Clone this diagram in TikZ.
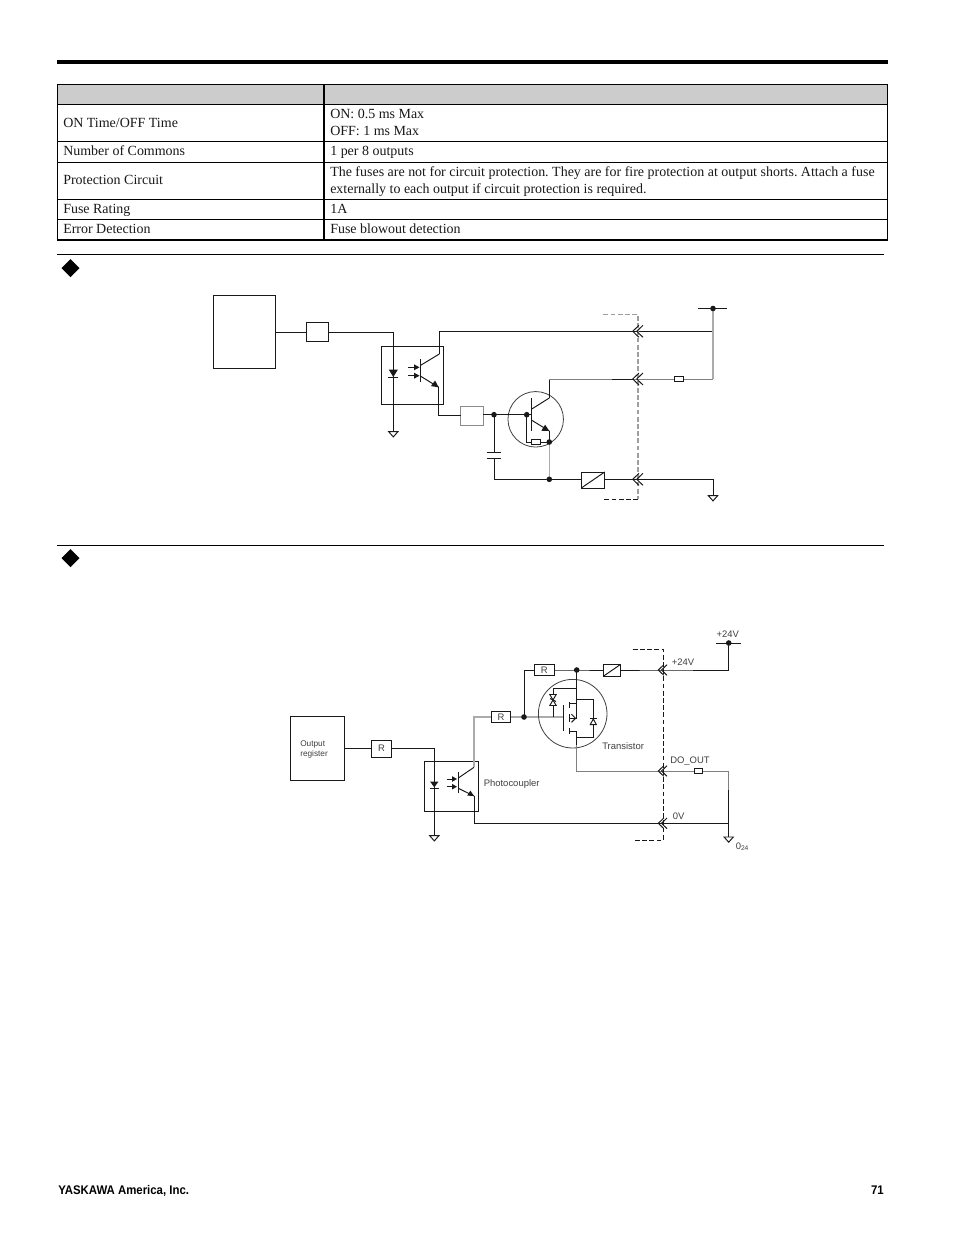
\documentclass[tikz,border=0pt]{standalone}
\usepackage{fontspec}
\setmainfont{Liberation Serif}
\setsansfont{Liberation Sans}
\frenchspacing
\tikzset{
  ln/.style={draw=black!90,line width=0.72pt},
  gw/.style={draw=black!33,line width=1.1pt},
  gy/.style={draw=black!50,line width=0.75pt},
  sz/.style 2 args={minimum width=#1*0.75pt,minimum height=#2*0.75pt,inner sep=0pt,outer sep=0pt},
  bx/.style={draw=black!90,line width=0.72pt,fill=white,rectangle},
  gbx/.style={draw=black!45,line width=1pt,fill=white,rectangle},
  rim/.style={draw=black!75,line width=0.6pt,circle,inner sep=0pt,outer sep=0pt},
  tcell/.style={anchor=base west,inner sep=0pt,font=\fontsize{10.48pt}{12pt}\selectfont,text=black!90},
  sm/.style={anchor=base west,inner sep=0pt,font=\sffamily\fontsize{7.1pt}{8pt}\selectfont,text=black!75},
  tiny/.style={anchor=base west,inner sep=0pt,font=\sffamily\fontsize{6.2pt}{7pt}\selectfont,text=black!75},
  foot/.style={inner sep=0pt,font=\sffamily\bfseries\fontsize{9.4pt}{11pt}\selectfont},
  dsh/.style={dash pattern=on 3.6pt off 1.8pt},
}
\newcommand{\gndsym}[1]{\draw[ln,fill=white] (#1) ++(-4.6,0) -- ++(9.2,0) -- ++(-4.6,5.2) -- cycle;}
\newcommand{\chev}[1]{\draw[ln] (#1) ++(6.3,-6) -- ++(-6.3,6) -- ++(6.3,6);
  \draw[ln] (#1) ++(10.3,-6) -- ++(-6.3,6) -- ++(6.3,6);}
\newcommand{\chevb}[1]{\draw[ln] (#1) ++(5.5,-5.3) -- ++(-5.5,5.3) -- ++(5.5,5.3);
  \draw[ln] (#1) ++(8.7,-5.3) -- ++(-5.5,5.3) -- ++(5.5,5.3);}
\newcommand{\jdot}[1]{\fill[black!90] (#1) circle[radius=2.8];}
\newcommand{\relaybox}[1]{\draw[ln] (#1.south west) -- (#1.north east);}
\begin{document}
\begin{tikzpicture}[x=0.75pt,y=-0.75pt]
\useasboundingbox (0,0) rectangle (954,1235);
\fill[white] (0,0) rectangle (954,1235);
% ---------- page rules
\coordinate (ruleL) at (57,62); \coordinate (ruleR) at (888,62);
\draw[line width=3.4pt,black] (ruleL) -- (ruleR);
% ---------- table
\fill[black!20] (57,84) rectangle (887,104);
\draw[line width=0.7pt,black] (57,84) rectangle (887,240);
\draw[line width=0.6pt,black] (57,104) -- (887,104) (57,141.5) -- (887,141.5) (57,162.3) -- (887,162.3)
  (57,199.3) -- (887,199.3) (57,219.3) -- (887,219.3);
\draw[line width=0.8pt,black] (324,84) -- (324,240);
\draw[line width=1pt,black] (57,240) -- (887,240);
\node[tcell] (c1) at (63,127) {ON Time/OFF Time};
\node[tcell] (d1a) at (330,118) {ON: 0.5 ms Max};
\node[tcell] (d1b) at (330,135) {OFF: 1 ms Max};
\node[tcell] (c2) at (63,155) {Number of Commons};
\node[tcell] (d2) at (330,155) {1 per 8 outputs};
\node[tcell] (c3) at (63,184) {Protection Circuit};
\node[tcell] (d3a) at (330,176) {The fuses are not for circuit protection. They are for fire protection at output shorts. Attach a fuse};
\node[tcell] (d3b) at (330,193) {externally to each output if circuit protection is required.};
\node[tcell] (c4) at (63,213) {Fuse Rating};
\node[tcell] (d4) at (330,213) {1A};
\node[tcell] (c5) at (63,233) {Error Detection};
\node[tcell] (d5) at (330,233) {Fuse blowout detection};
% ---------- section rules
\draw[line width=0.6pt,black] (57,254.5) -- (884,254.5);
\fill[black] (70.5,259) -- (79.5,268) -- (70.5,277) -- (61.5,268) -- cycle;
\draw[line width=0.6pt,black] (57,545) -- (884,545);
\fill[black] (70.5,549) -- (79.5,558) -- (70.5,567) -- (61.5,558) -- cycle;

% ========== DIAGRAM 1
\node[bx,sz={62}{73}] (reg) at (244.5,332) {};
\node[bx,sz={22.5}{19.5}] (ra) at (317.5,332) {};
\node[bx,sz={62.5}{58.5}] (pc) at (412.5,375.5) {};
\node[gbx,sz={22.5}{19.5}] (rb) at (472,416) {};
\node[rim,minimum size=55.5*0.75pt] (tq) at (535.7,419.3) {};
\coordinate (ledtop) at (393.3,332);
\coordinate (gnd1) at (393.3,431.7);
\draw[ln] (reg.east) -- (ra.west);
\draw[ln] (ra.east) -- (ledtop) -- (gnd1);
\gndsym{gnd1}
% LED
\coordinate (leda) at (393.3,369.5);
\fill[black!90] (leda) ++(-4.6,0) -- ++(9.2,0) -- ++(-4.6,7.5) -- cycle;
\draw[ln] (388.4,377.4) -- (398.2,377.4);
% phototransistor
\draw[line width=0.75pt,black!90] (420.3,359) -- (420.3,382.3);
\coordinate (pcC) at (439.3,354); \coordinate (pcE) at (438.7,387.3);
\draw[ln] (420.3,365.5) -- (pcC);
\draw[ln] (420.3,376) -- (pcE);
\fill[black!90] (pcE) -- ++(-7.8,-1.2) -- ++(4.2,-5.6) -- cycle;
\foreach \yy in {367.3,375.7}{
  \draw[ln] (408,\yy) -- (416,\yy);
  \fill[black!90] (419.5,\yy) -- (414,\yy-3) -- (414,\yy+3) -- cycle;
}
% top wire
\coordinate (con1) at (632.7,331.3);
\coordinate (con2) at (632.7,379);
\coordinate (con3) at (632.7,479.3);
\coordinate (rail1) at (713,331.3);
\coordinate (vcc1) at (713,308.5);
\coordinate (rj) at (713,379);
\draw[ln] (pcC) -- (439.3,331.3) -- (con1);
\draw[ln] (con1) -- (rail1);
\draw[gw] (vcc1) -- (rj);
\draw[ln] (698,308.5) -- (727.3,308.5);
\jdot{vcc1}
\draw[ln] (pcE) -- (438.7,415.3) -- (rb.west |- 0,415.3);
% base wiring
\coordinate (j1) at (494,414.7);
\coordinate (bd) at (526.7,414.7);
\coordinate (ej) at (549.3,442);
\coordinate (bj) at (549.3,479.3);
\draw[ln] (rb.east |- j1) -- (bd);
\draw[line width=0.75pt,black!90] (531.3,398) -- (531.3,431.3);
\coordinate (tqC) at (549.3,398); \coordinate (tqE) at (549.3,431);
\draw[ln] (bd) -- (531.3,414.7);
\draw[ln] (531.3,409.3) -- (tqC);
\draw[ln] (531.3,420) -- (tqE);
\fill[black!90] (tqE) -- ++(-8,-0.3) -- ++(3.8,-6) -- cycle;
\draw[ln] (tqE) -- (ej);
\draw[ln] (tqC) -- (549.3,379);
\draw[gy] (549.3,379) -- (612,379);
\draw[ln] (612,379) -- (con2);
\draw[gy] (con2) -- (rj);
\node[bx,sz={9}{5.5}] (rc) at (536,442) {};
\draw[ln] (bd) -- (526.7,442) -- (rc.west);
\draw[ln] (rc.east) -- (ej);
\draw[gw] (ej) -- (bj);
\jdot{j1}\jdot{bd}\jdot{ej}\jdot{bj}
\node[bx,sz={9.4}{5}] (rd) at (679,378.8) {};
% capacitor
\coordinate (capa) at (494,452.7); \coordinate (capb) at (494,458.3);
\draw[ln] (j1) -- (capa);
\draw[ln] (486.7,452.7) -- (501.3,452.7);
\draw[ln] (486.7,458.3) -- (501.3,458.3);
\draw[ln] (capb) -- (494,479.3) -- (bj);
% relay
\node[bx,sz={23.4}{16}] (rel) at (593,480) {};
\relaybox{rel}
\draw[ln] (bj) -- (rel.west |- bj);
\draw[ln] (rel.east |- bj) -- (con3);
\coordinate (gnd2) at (713,495.7);
\draw[ln] (con3) -- (713,479.3) -- (gnd2);
\gndsym{gnd2}
% dashed enclosure
\draw[draw=black!38,line width=1pt,dsh] (603.3,314.7) -- (638,314.7) -- (638,499.3);
\draw[draw=black!90,line width=0.65pt,dsh] (638,499.3) -- (603.3,499.3);
\chev{con1}\chev{con2}\chev{con3}

% ========== DIAGRAM 2
\node[bx,sz={54.4}{64}] (reg2) at (317.5,748.5) {};
\node[tiny] (t1) at (300,746.5) {Output};
\node[tiny] (t2) at (300,756.5) {register};
\node[bx,sz={20.4}{17},font=\sffamily\fontsize{7.1pt}{8pt}\selectfont,text=black!75] (r1) at (381.5,748.5) {R};
\node[bx,sz={54.4}{50}] (pc2) at (451.5,786.3) {};
\coordinate (led2) at (434.3,748.5);
\coordinate (gnd3) at (434.3,835.7);
\draw[ln] (reg2.east) -- (r1.west);
\draw[ln] (r1.east) -- (led2) -- (gnd3);
\gndsym{gnd3}
\fill[black!90] (430.2,781.7) -- (438.4,781.7) -- (434.3,787.3) -- cycle;
\draw[ln] (430,788) -- (438.6,788);
\draw[line width=0.75pt,black!90] (458.3,772.3) -- (458.3,792.7);
\coordinate (pc2C) at (474,767.3); \coordinate (pc2E) at (474,796);
\draw[ln] (458.3,778) -- (pc2C);
\draw[ln] (458.3,788.3) -- (pc2E);
\fill[black!90] (pc2E) -- ++(-6.8,-0.4) -- ++(3.2,-5) -- cycle;
\foreach \yy in {779,786.7}{
  \draw[ln] (446.7,\yy) -- (453,\yy);
  \fill[black!90] (457,\yy) -- (452,\yy-2.8) -- (452,\yy+2.8) -- cycle;
}
\node[sm] (lphoto) at (483.5,786) {Photocoupler};
\node[bx,sz={19.4}{11},font=\sffamily\fontsize{7.1pt}{8pt}\selectfont,text=black!75] (r2) at (501,717) {R};
\coordinate (gj) at (524,717);
\coordinate (gate) at (563.7,717);
\draw[gw] (pc2C) -- (474,717) -- (r2.west);
\draw[gw] (r2.east) -- (gj);
\draw[gw] (gj) -- (gate);
\draw[ln] (gj) -- (524,670) -- (534.3,670);
\node[bx,sz={19.7}{11},font=\sffamily\fontsize{7.1pt}{8pt}\selectfont,text=black!75] (r3) at (544.2,670) {R};
\coordinate (dj) at (576.7,670);
\node[bx,sz={17.4}{12},] (rel2) at (612,670.3) {};
\relaybox{rel2}
\coordinate (con4) at (658.3,670);
\coordinate (con5) at (658.3,771);
\coordinate (con6) at (658.3,823.3);
\coordinate (vcc2) at (728.7,643);
\coordinate (gnd4) at (728.7,837);
\draw[ln] (r3.east) -- (dj) -- (rel2.west |- dj);
\draw[ln] (rel2.east |- dj) -- (con4) -- (728.7,670) -- (vcc2);
\draw[ln] (715.7,643) -- (741.3,643);
\jdot{vcc2}\jdot{gj}\jdot{dj}
% MOSFET
\node[rim,minimum size=68.6*0.75pt] (mos) at (572.7,713.7) {};
\draw[line width=0.75pt,black!90] (563.7,705) -- (563.7,730.7);
\draw[ln] (dj) -- (576.7,718.3);
\draw[ln] (569.3,702) -- (569.3,708);
\draw[ln] (569.3,703.3) -- (576.7,703.3);
\draw[ln] (569.3,714) -- (569.3,721.7);
\draw[ln] (569.3,718.3) -- (576.7,718.3);
\draw[ln] (571.5,714.2) -- (575.5,718.3) -- (571.5,722.4);
\draw[ln] (569.3,728) -- (569.3,734.3);
\draw[ln] (569.3,731.7) -- (576.7,731.7);
\draw[ln] (576.7,699.3) -- (593.3,699.3) -- (593.3,737.7) -- (576.7,737.7);
\draw[ln,fill=white] (590.2,724.7) -- (596.4,724.7) -- (593.3,719) -- cycle;
\draw[ln] (590,718.8) -- (596.6,718.8);
% back-to-back zener
\draw[ln] (576.7,688.3) -- (553,688.3) -- (553,695);
\draw[ln] (553,705.5) -- (553,716.7);
\draw[ln,fill=white] (549.8,694.5) -- (556.2,694.5) -- (553,700) -- cycle;
\draw[ln,fill=white] (549.8,705.5) -- (556.2,705.5) -- (553,700) -- cycle;
\draw[ln] (550,698.5) -- (556,701.5);
% outputs
\coordinate (srcT) at (576.7,771);
\draw[ln] (576.7,731.7) -- (576.7,745);
\draw[gy] (576.7,745) -- (srcT) -- (con5);
\node[bx,sz={8.4}{4.6}] (r4) at (698.5,771) {};
\draw[gy] (con5) -- (r4.west);
\draw[gy] (r4.east) -- (728.7,771) -- (728.7,790);
\draw[ln] (pc2E) -- (474,823.3) -- (con6);
\draw[ln] (con6) -- (728.7,823.3);
\draw[ln] (728.7,790) -- (gnd4);
\gndsym{gnd4}
\draw[line width=0.7pt,black!90,dsh] (632.7,649.3) -- (663.3,649.3) -- (663.3,840) -- (632.7,840);
\chevb{con4}\chevb{con5}\chevb{con6}
\node[sm] (ltr) at (602,749) {Transistor};
\node[sm,anchor=base] (l24a) at (727.7,637) {+24V};
\node[sm] (l24b) at (671.5,665) {+24V};
\node[sm] (ldo) at (670,763) {DO\_OUT};
\node[sm] (l0v) at (672.5,819) {0V};
\node[sm] (l024) at (735.5,849) {0\raisebox{-0.25ex}{\fontsize{5pt}{6pt}\selectfont 24}};
% footer
\node[foot,anchor=base west] (fl) at (58,1194) {\scalebox{0.91}[1]{YASKAWA America, Inc.}};
\node[foot,anchor=base east] (fr) at (884,1194) {\scalebox{0.91}[1]{71}};
\end{tikzpicture}
\end{document}
